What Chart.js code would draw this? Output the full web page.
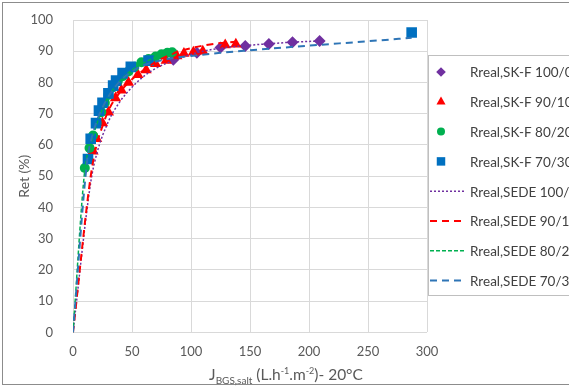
<!DOCTYPE html>
<html>
<head>
<meta charset="utf-8">
<script src="https://cdn.jsdelivr.net/npm/chart.js@4/dist/chart.umd.min.js"></script>
<style>
  html, body { margin: 0; padding: 0; background: #fff; overflow: hidden; }
  #wrap { width: 569px; height: 391px; }
</style>
</head>
<body>
<div id="wrap"><canvas id="retChart" width="569" height="391"></canvas></div>
<script>
// measured points (SK-F)
var xSK100 = [85, 105, 125, 146, 166, 186, 209];
var ySK100 = [87.3, 89.5, 91.2, 91.7, 92.3, 92.9, 93.3];
var xSK90 = [17, 20, 25, 30, 36, 41, 47, 55, 62, 70, 79, 88, 94, 102, 110, 129, 138];
var ySK90 = [58, 62, 67, 70.5, 75, 77.5, 80, 82.5, 84, 86, 87, 88.5, 89.3, 89.7, 90, 92, 92.2];
var xSK80 = [10, 14, 17, 20, 24, 27, 30, 34, 38, 42, 47, 52, 58, 64, 70, 75, 80, 84];
var ySK80 = [52.6, 59, 63, 67, 70.5, 73.5, 76, 78.5, 80.5, 82, 83.5, 85, 86.5, 87.5, 88.3, 89, 89.5, 89.7];
var xSK70 = [12.7, 15, 19.5, 22, 25, 30, 34, 36.5, 42, 49, 64, 287];
var ySK70 = [55.5, 62, 67, 71, 73.5, 76.5, 79, 80.6, 83, 85, 87, 96];

// model curves (SEDE)
var xSEDE100 = [0, 15, 20, 30, 40, 50, 60, 70, 85, 105, 125, 146, 166, 186, 209];
var ySEDE100 = [0, 48, 57, 67.5, 74, 78.5, 82, 84.5, 87, 89.5, 91, 91.8, 92.4, 92.9, 93.3];
var xSEDE90 = [0, 15, 20, 25, 30, 40, 50, 60, 70, 80, 90, 100, 110, 120, 138];
var ySEDE90 = [0, 50, 60, 66, 71, 77, 81, 84, 86.5, 88.5, 90, 91, 91.8, 92.4, 93];
var xSEDE80 = [0, 10, 15, 20, 25, 30, 40, 50, 60, 70, 80, 85];
var ySEDE80 = [0, 52, 60, 66.5, 71.5, 75.5, 80.5, 84, 86.3, 88, 89.2, 89.7];
var xSEDE70 = [0, 12, 15, 20, 25, 30, 40, 50, 60, 80, 100, 125, 150, 200, 250, 287];
var ySEDE70 = [0, 55, 61, 67.5, 72, 75.5, 80.5, 83.5, 85.5, 87.5, 88.5, 89.5, 90.3, 91.8, 93.2, 94.3];

var seriesNames = ["Rreal,SK-F 100/0", "Rreal,SK-F 90/10", "Rreal,SK-F 80/20", "Rreal,SK-F 70/30",
                   "Rreal,SEDE 100/0", "Rreal,SEDE 90/10", "Rreal,SEDE 80/20", "Rreal,SEDE 70/30"];
var xTickValues = [0, 50, 100, 150, 200, 250, 300];
var yTickValues = [0, 10, 20, 30, 40, 50, 60, 70, 80, 90, 100];

var purple = "#7030A0", red = "#FF0000", green = "#00B050", blue = "#0070C0";
var textColor = "#595959";
var fontFamily = "Lato, 'Open Sans', sans-serif";

function pts(xs, ys) {
    return xs.map(function (x, i) { return { x: x, y: ys[i] }; });
}

function markerSet(i, xs, ys, color, style, radius) {
    return {
        label: seriesNames[i], data: pts(xs, ys), showLine: false,
        pointStyle: style, pointRadius: radius, pointHoverRadius: radius,
        backgroundColor: color, borderColor: color, borderWidth: 0,
        order: 8 - i
    };
}

function lineSet(i, xs, ys, color, dash, width) {
    return {
        label: seriesNames[i], data: pts(xs, ys), showLine: true,
        pointRadius: 0, borderColor: color, backgroundColor: color,
        borderWidth: width, borderDash: dash, cubicInterpolationMode: "monotone",
        order: 8 - i
    };
}

var datasets = [
    markerSet(0, xSK100, ySK100, purple, "rectRot", 6),
    markerSet(1, xSK90, ySK90, red, "triangle", 6.5),
    markerSet(2, xSK80, ySK80, green, "circle", 5),
    markerSet(3, xSK70, ySK70, blue, "rect", 7.5),
    lineSet(4, xSEDE100, ySEDE100, purple, [2, 2], 1.5),
    lineSet(5, xSEDE90, ySEDE90, red, [7, 5], 2),
    lineSet(6, xSEDE80, ySEDE80, green, [4, 2], 1.5),
    lineSet(7, xSEDE70, ySEDE70, "#2E75B6", [7, 5], 2)
];

// outer frame, legend box and the x title with sub/superscripts
var decorPlugin = {
    id: "decor",
    beforeDraw: function (chart) {
        var ctx = chart.ctx;
        ctx.save();
        ctx.fillStyle = "#fff";
        ctx.fillRect(0, 0, chart.width, chart.height);
        ctx.strokeStyle = "#8c8c8c";
        ctx.lineWidth = 1;
        ctx.strokeRect(2.5, 2.5, 700, 382);
        ctx.restore();
    },
    afterDraw: function (chart) {
        var ctx = chart.ctx;
        ctx.save();
        // legend
        ctx.fillStyle = "#fff";
        ctx.fillRect(428.5, 55.5, 300, 240);
        ctx.strokeStyle = "#bfbfbf";
        ctx.lineWidth = 1;
        ctx.strokeRect(428.5, 55.5, 300, 240);
        ctx.font = "13.5px " + fontFamily;
        ctx.textBaseline = "middle";
        ctx.textAlign = "left";
        datasets.forEach(function (ds, i) {
            var y = 72 + i * 29.8;
            if (!ds.showLine) {
                ctx.fillStyle = ds.backgroundColor;
                ctx.strokeStyle = ds.borderColor;
                Chart.helpers.drawPoint(ctx, {
                    pointStyle: ds.pointStyle, radius: ds.pointRadius * 0.8,
                    rotation: 0, borderWidth: 0
                }, 441, y);
            } else {
                ctx.strokeStyle = ds.borderColor;
                ctx.lineWidth = ds.borderWidth;
                ctx.setLineDash(ds.borderDash);
                ctx.beginPath();
                ctx.moveTo(430, y);
                ctx.lineTo(466, y);
                ctx.stroke();
                ctx.setLineDash([]);
            }
            ctx.fillStyle = "#404040";
            ctx.fillText(ds.label, 470, y + 1);
        });

        // x axis title
        var parts = [
            { t: "J", size: 15.5, dy: 0 },
            { t: "BGS,salt", size: 10, dy: 4 },
            { t: " (L.h", size: 15.5, dy: 0 },
            { t: "-1", size: 9, dy: -6 },
            { t: ".m", size: 15.5, dy: 0 },
            { t: "-2", size: 9, dy: -6 },
            { t: ")- 20°C", size: 15.5, dy: 0 }
        ];
        var total = 0;
        parts.forEach(function (p) {
            ctx.font = p.size + "px " + fontFamily;
            p.w = ctx.measureText(p.t).width;
            total += p.w;
        });
        var x = 286 - total / 2, base = 380;
        ctx.textBaseline = "alphabetic";
        ctx.fillStyle = textColor;
        parts.forEach(function (p) {
            ctx.font = p.size + "px " + fontFamily;
            ctx.fillText(p.t, x, base + p.dy);
            x += p.w;
        });
        ctx.restore();
    }
};

new Chart("retChart", {
    type: "scatter",
    data: { datasets: datasets },
    options: {
        responsive: false,
        animation: false,
        layout: { padding: { left: 0, right: 142, top: 20, bottom: 19 } },
        plugins: {
            legend: { display: false },
            tooltip: { enabled: false }
        },
        scales: {
            x: {
                type: "linear", min: 0, max: 300,
                afterBuildTicks: function (axis) {
                    axis.ticks = xTickValues.map(function (v) { return { value: v }; });
                },
                grid: { color: "#d9d9d9", drawTicks: false },
                border: { display: false },
                ticks: { color: textColor, font: { family: fontFamily, size: 13 }, padding: 12, maxRotation: 0 }
            },
            y: {
                type: "linear", min: 0, max: 100,
                afterBuildTicks: function (axis) {
                    axis.ticks = yTickValues.map(function (v) { return { value: v }; });
                },
                afterFit: function (axis) {
                    axis.width = 73;
                    axis.paddingTop = 0;
                    axis.paddingBottom = 0;
                },
                grid: { color: "#d9d9d9", drawTicks: false },
                border: { display: false },
                ticks: { color: textColor, font: { family: fontFamily, size: 13 }, padding: 20 },
                title: {
                    display: true, text: "Ret (%)", color: textColor,
                    font: { family: fontFamily, size: 14 },
                    padding: { top: 16, bottom: 0 }
                }
            }
        }
    },
    plugins: [decorPlugin]
});
</script>
</body>
</html>
